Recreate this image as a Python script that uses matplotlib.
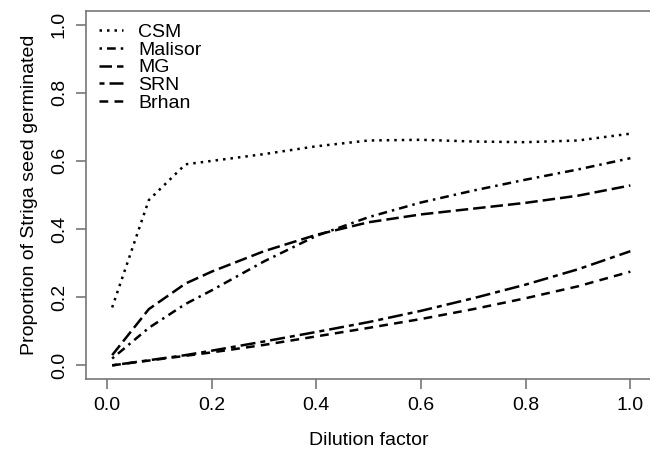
import matplotlib
matplotlib.use('Agg')
import matplotlib.pyplot as plt

plt.rcParams['font.family'] = ['Liberation Sans', 'DejaVu Sans']

# dilution factor
dilution = [0.01, 0.08, 0.15, 0.2, 0.3, 0.4, 0.5, 0.6, 0.7, 0.8, 0.9, 1.0]

# proportion germinated
csm = [0.17, 0.485, 0.59, 0.60, 0.62, 0.643, 0.66, 0.662, 0.657, 0.655, 0.66, 0.68]
malisor = [0.02, 0.11, 0.18, 0.22, 0.305, 0.38, 0.435, 0.478, 0.513, 0.545, 0.575, 0.608]
mg = [0.03, 0.165, 0.24, 0.275, 0.335, 0.383, 0.42, 0.443, 0.46, 0.477, 0.498, 0.528]
srn = [0.0, 0.015, 0.03, 0.043, 0.07, 0.098, 0.127, 0.16, 0.197, 0.237, 0.282, 0.335]
brhan = [0.0, 0.014, 0.028, 0.038, 0.06, 0.085, 0.11, 0.136, 0.165, 0.197, 0.232, 0.275]

series = [
    ('CSM', csm, (0, (1, 2))),
    ('Malisor', malisor, (0, (1, 2, 3.5, 2))),
    ('MG', mg, (0, (5, 2))),
    ('SRN', srn, (0, (2, 2, 6, 2))),
    ('Brhan', brhan, (0, (3.5, 2.5))),
]

fig = plt.figure(figsize=(6.5, 4.53), dpi=100)
ax = fig.add_axes([0.1323, 0.1634, 0.8697, 0.8123])

for name, vals, ls in series:
    ax.plot(dilution, vals, color='black', lw=1.8, linestyle=ls,
            dash_capstyle='butt', label=name)

ax.set_xlim(-0.04, 1.04)
ax.set_ylim(-0.04, 1.04)
ax.set_xticks([0.0, 0.2, 0.4, 0.6, 0.8, 1.0])
ax.set_yticks([0.0, 0.2, 0.4, 0.6, 0.8, 1.0])
ax.set_xticklabels(['0.0', '0.2', '0.4', '0.6', '0.8', '1.0'])
ax.set_yticklabels(['0.0', '0.2', '0.4', '0.6', '0.8', '1.0'], rotation=90, va='center')
for sp in ax.spines.values():
    sp.set_color('#777777')
    sp.set_linewidth(1.2)
ax.spines['right'].set_visible(False)
ax.tick_params(colors='#777777', labelcolor='black', length=7, width=1.2, labelsize=14, pad=6)

ax.set_xlabel('Dilution factor', fontsize=14, labelpad=13)
ax.set_ylabel('Proportion of Striga seed germinated', fontsize=14, labelpad=9)

ax.legend(loc='upper left', frameon=False, fontsize=14, handlelength=1.25,
          handletextpad=0.8, labelspacing=0.0, borderaxespad=0.25,
          bbox_to_anchor=(0.0, 1.0))

fig.savefig('out.png', dpi=100)
